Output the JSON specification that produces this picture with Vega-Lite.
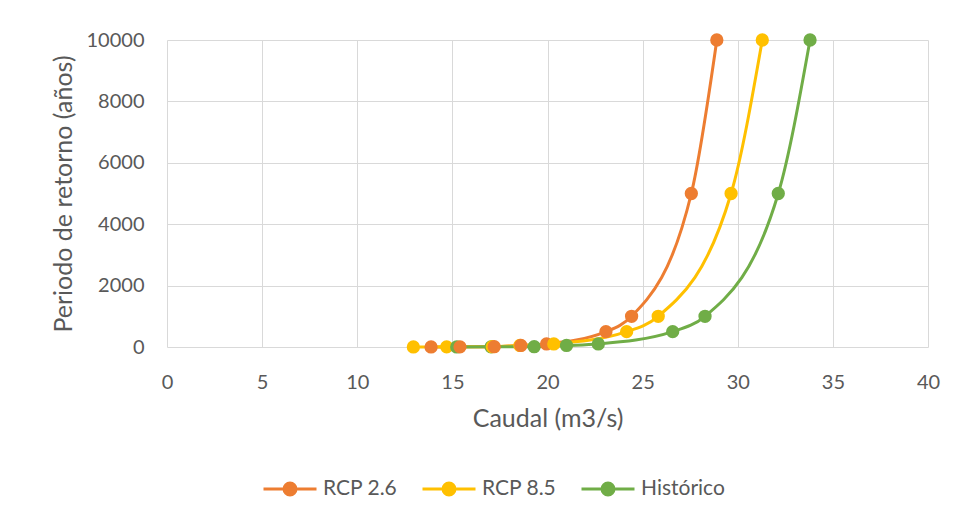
{
  "$schema": "https://vega.github.io/schema/vega-lite/v6.json",
  "width": 761,
  "height": 307,
  "autosize": "none",
  "padding": {"left": 167, "top": 40, "right": 30, "bottom": 173},
  "background": "white",
  "config": {
    "view": {"stroke": null},
    "font": "Lato",
    "axis": {
      "gridColor": "#D9D9D9",
      "gridWidth": 1,
      "domain": false,
      "ticks": false,
      "labelFlush": false,
      "labelFont": "Lato",
      "labelFontSize": 20,
      "labelColor": "#595959",
      "titleFont": "Lato",
      "titleFontSize": 25,
      "titleFontWeight": "normal",
      "titleColor": "#595959"
    }
  },
  "data": {
    "values": [
      {"serie": "RCP 2.6", "caudal": 13.88, "periodo": 2},
      {"serie": "RCP 2.6", "caudal": 15.4, "periodo": 5},
      {"serie": "RCP 2.6", "caudal": 17.2, "periodo": 10},
      {"serie": "RCP 2.6", "caudal": 18.6, "periodo": 50},
      {"serie": "RCP 2.6", "caudal": 19.95, "periodo": 100},
      {"serie": "RCP 2.6", "caudal": 23.07, "periodo": 500},
      {"serie": "RCP 2.6", "caudal": 24.42, "periodo": 1000},
      {"serie": "RCP 2.6", "caudal": 27.56, "periodo": 5000},
      {"serie": "RCP 2.6", "caudal": 28.9, "periodo": 10000},
      {"serie": "RCP 8.5", "caudal": 12.95, "periodo": 2},
      {"serie": "RCP 8.5", "caudal": 14.7, "periodo": 5},
      {"serie": "RCP 8.5", "caudal": 17.1, "periodo": 10},
      {"serie": "RCP 8.5", "caudal": 18.55, "periodo": 50},
      {"serie": "RCP 8.5", "caudal": 20.33, "periodo": 100},
      {"serie": "RCP 8.5", "caudal": 24.16, "periodo": 500},
      {"serie": "RCP 8.5", "caudal": 25.82, "periodo": 1000},
      {"serie": "RCP 8.5", "caudal": 29.65, "periodo": 5000},
      {"serie": "RCP 8.5", "caudal": 31.29, "periodo": 10000},
      {"serie": "Histórico", "caudal": 15.23, "periodo": 2},
      {"serie": "Histórico", "caudal": 17.03, "periodo": 5},
      {"serie": "Histórico", "caudal": 19.3, "periodo": 10},
      {"serie": "Histórico", "caudal": 21.0, "periodo": 50},
      {"serie": "Histórico", "caudal": 22.67, "periodo": 100},
      {"serie": "Histórico", "caudal": 26.58, "periodo": 500},
      {"serie": "Histórico", "caudal": 28.28, "periodo": 1000},
      {"serie": "Histórico", "caudal": 32.13, "periodo": 5000},
      {"serie": "Histórico", "caudal": 33.8, "periodo": 10000}
    ]
  },
  "encoding": {
    "x": {
      "field": "caudal",
      "type": "quantitative",
      "title": "Caudal (m3/s)",
      "scale": {"domain": [0, 40], "nice": false, "zero": false},
      "axis": {"values": [0, 5, 10, 15, 20, 25, 30, 35, 40], "labelPadding": 25, "titlePadding": 14}
    },
    "y": {
      "field": "periodo",
      "type": "quantitative",
      "title": "Periodo de retorno (años)",
      "scale": {"domain": [0, 10000], "nice": false},
      "axis": {"values": [0, 2000, 4000, 6000, 8000, 10000], "format": "d", "labelPadding": 23, "titlePadding": 10}
    },
    "color": {
      "field": "serie",
      "type": "nominal",
      "scale": {
        "domain": ["RCP 2.6", "RCP 8.5", "Histórico"],
        "range": ["#ED7D31", "#FFC000", "#70AD47"]
      },
      "legend": {
        "title": null,
        "orient": "none",
        "direction": "horizontal",
        "legendX": 95,
        "legendY": 421,
        "symbolType": "M-1,0H1M0.226,0A0.226,0.226,0,1,1,-0.226,0A0.226,0.226,0,1,1,0.226,0Z",
        "symbolSize": 2809,
        "symbolStrokeWidth": 3,
        "labelFont": "Lato",
        "labelFontSize": 21,
        "labelColor": "#595959",
        "labelOffset": 5,
        "columnPadding": 18,
        "encode": {
          "symbols": {
            "update": {
              "fill": {"scale": "color", "field": "value"},
              "stroke": {"scale": "color", "field": "value"},
              "fillOpacity": {"value": 1},
              "strokeOpacity": {"value": 1}
            }
          }
        }
      }
    },
    "order": {"field": "caudal", "type": "quantitative"}
  },
  "layer": [
    {"mark": {"type": "line", "interpolate": "monotone", "strokeWidth": 3}},
    {"mark": {"type": "point", "filled": true, "shape": "circle", "size": 177, "opacity": 1}}
  ]
}
